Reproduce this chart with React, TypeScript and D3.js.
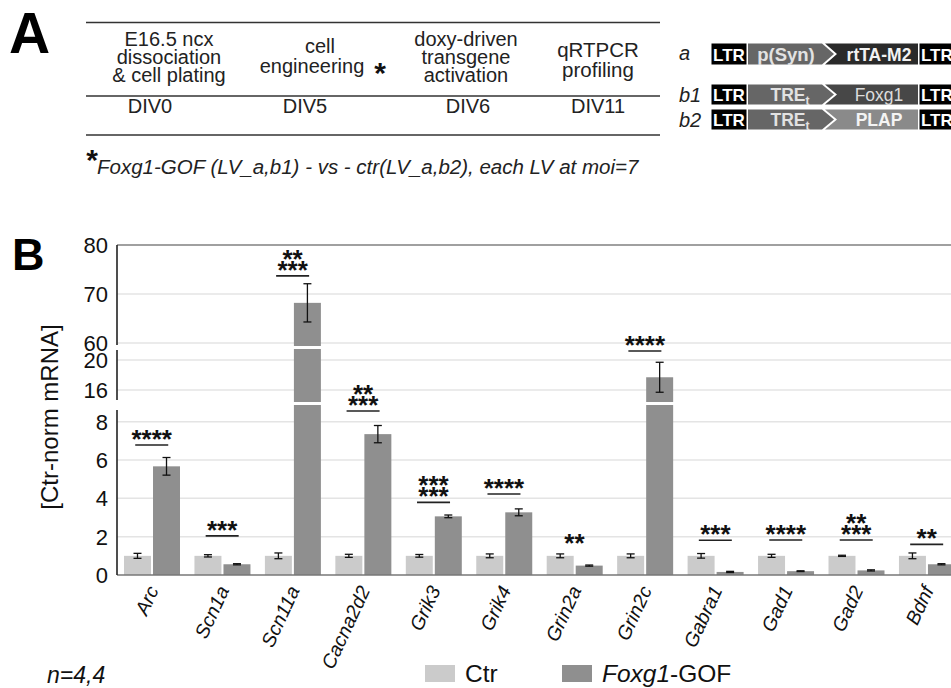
import React from "react";
import * as d3 from "d3";

// qRT-PCR, Ctr-normalized mRNA levels (mean, sem)
const genes = ["Arc", "Scn1a", "Scn11a", "Cacna2d2", "Grik3", "Grik4", "Grin2a", "Grin2c", "Gabra1", "Gad1", "Gad2", "Bdnf"];
const ctrMean = [1, 1, 1, 1, 1, 1, 1, 1, 1, 1, 1, 1];
const ctrErr = [0.13, 0.06, 0.15, 0.08, 0.07, 0.1, 0.1, 0.1, 0.12, 0.08, 0.03, 0.15];
const gofMean = [5.67, 0.56, 68.2, 7.35, 3.06, 3.27, 0.49, 17.7, 0.16, 0.2, 0.24, 0.56];
const gofErr = [0.46, 0.03, 3.9, 0.45, 0.07, 0.18, 0.03, 2.0, 0.03, 0.02, 0.03, 0.03];

// significance marks, bottom row first
const sigStars = [["****"], ["***"], ["***", "**"], ["***", "**"], ["***", "***"], ["****"], ["**"], ["****"], ["***"], ["****"], ["***", "**"], ["**"]];
const sigLevel = [6.78, 2.04, 73.7, 8.56, 3.79, 4.23, 1.36, 21.2, 1.81, 1.83, 1.83, 1.6];
const sigLine = [true, true, true, true, true, true, false, true, true, true, true, true];

// broken y axis: three segments
const topTicks = [60, 70, 80];
const midTicks = [16, 20];
const lowTicks = [0, 2, 4, 6, 8];
const topDomain = [59.4, 80];
const midDomain = [14.4, 21.47];
const lowDomain = [0, 8.87];

// panel A
const steps = [["E16.5 ncx", "dissociation", "& cell plating"], ["cell", "engineering"], ["doxy-driven", "transgene", "activation"], ["qRTPCR", "profiling"]];
const days = ["DIV0", "DIV5", "DIV6", "DIV11"];

const W = 951;
const H = 688;
const FONT = "'Liberation Sans', Arial, Helvetica, sans-serif";

const segments = [
  { scale: d3.scaleLinear().domain(topDomain).range([346, 245]), ticks: topTicks, grid: [60, 70], axis: [245, 345] },
  { scale: d3.scaleLinear().domain(midDomain).range([402, 349]), ticks: midTicks, grid: [16, 20], axis: [350, 400] },
  { scale: d3.scaleLinear().domain(lowDomain).range([575, 405]), ticks: lowTicks, grid: [2, 4, 6, 8], axis: [410, 575] },
];

function yOf(v: number) {
  const s = segments.find(s => v >= s.scale.domain()[0] && v <= s.scale.domain()[1]) || segments[2];
  return s.scale(v);
}

const plotLeft = 117;
const x = d3.scaleBand().domain(genes).range([plotLeft, plotLeft + 70.45 * genes.length]).padding(0);
const xSub = d3.scaleBand().domain(["ctr", "gof"]).range([7, 63]).paddingInner(0.07);

const CTR = "#cbcbcb";
const GOF = "#8f8f8f";

function Bars({ values, errs, key2, fill }: { values: number[]; errs: number[]; key2: string; fill: string }) {
  return (
    <g>
      {genes.map((g, i) => {
        const v = values[i];
        const bx = (x(g) as number) + (xSub(key2) as number);
        const bw = xSub.bandwidth();
        const cx = bx + bw / 2;
        const pieces = segments.filter(s => v > s.scale.domain()[0]).map((s, j) => {
          const top = s.scale(Math.min(v, s.scale.domain()[1]));
          const bot = s.scale(s.scale.domain()[0]);
          return <rect key={j} x={bx} y={top} width={bw} height={bot - top} fill={fill} />;
        });
        const e = errs[i];
        return (
          <g key={g}>
            {pieces}
            <g stroke="#111" strokeWidth={1.3}>
              <line x1={cx} x2={cx} y1={yOf(v + e)} y2={yOf(v - e)} />
              <line x1={cx - 4} x2={cx + 4} y1={yOf(v + e)} y2={yOf(v + e)} />
              <line x1={cx - 4} x2={cx + 4} y1={yOf(v - e)} y2={yOf(v - e)} />
            </g>
          </g>
        );
      })}
    </g>
  );
}

function Construct({ y, h, label, promoter, gene, geneFill, geneColor, geneWeight }: any) {
  const mid = y + h / 2;
  const tb = mid + 6.5;
  return (
    <g fontFamily={FONT}>
      <text x={679} y={label === "a" ? tb - 1 : tb + 1} fontSize={20} fontStyle="italic" fill="#222">{label}</text>
      <rect x={711.5} y={y} width={35} height={h} fill="#000" />
      <text x={729} y={tb} fontSize={17} fontWeight="bold" fill="#fff" textAnchor="middle">LTR</text>
      <path d={`M748,${y}H822L834,${mid}L822,${y + h}H748Z`} fill="#666" />
      {promoter === "TRE" ? (
        <text x={790} y={tb} fontSize={17.5} fontWeight="bold" fill="#e2e2e2" textAnchor="middle">
          TRE<tspan fontSize={12} dy={4}>t</tspan>
        </text>
      ) : (
        <text x={786} y={tb} fontSize={18.5} fontWeight="bold" fill="#e2e2e2" textAnchor="middle">{promoter}</text>
      )}
      <path d={`M825,${y}H918V${y + h}H825L837,${mid}Z`} fill={geneFill} />
      <text x={879} y={tb} fontSize={17.5} fontWeight={geneWeight} fill={geneColor} textAnchor="middle">{gene}</text>
      <rect x={919.5} y={y} width={40} height={h} fill="#000" />
      <text x={921} y={tb} fontSize={17} fontWeight="bold" fill="#fff">LTR</text>
    </g>
  );
}

export default function App() {
  const colX = [169, 320, 466, 598];
  const dayX = [150, 305, 468, 598];
  const lineYs = [[46, 64, 82], [53, 73], [46, 64, 82], [57, 77]];
  return (
    <svg width={W} height={H} style={{ position: "absolute", left: 0, top: 0, background: "#fff" }} fontFamily={FONT}>
      {/* ---------- panel A ---------- */}
      <text x={9} y={53} fontSize={57} fontWeight="bold" fill="#000">A</text>
      <g stroke="#333" strokeWidth={1.5}>
        <line x1={86} x2={660} y1={22.5} y2={22.5} />
        <line x1={86} x2={660} y1={96} y2={96} />
        <line x1={86} x2={660} y1={135} y2={135} />
      </g>
      {steps.map((lines, i) =>
        lines.map((t, j) => (
          <text key={i + "-" + j} x={i === 1 && j === 1 ? 312 : colX[i]} y={lineYs[i][j]} fontSize={i === 3 ? 20.5 : 20} fill="#222" textAnchor="middle">{t}</text>
        ))
      )}
      <text x={380} y={83} fontSize={30} fontWeight="bold" fill="#111" textAnchor="middle">*</text>
      {days.map((d, i) => (
        <text key={d} x={dayX[i]} y={113} fontSize={20} fill="#222" textAnchor="middle">{d}</text>
      ))}
      <text x={92} y={170} fontSize={30} fontWeight="bold" fill="#111" textAnchor="middle">*</text>
      <text x={97} y={174} fontSize={20.5} fontStyle="italic" fill="#222">Foxg1-GOF (LV_a,b1) - vs - ctr(LV_a,b2), each LV at moi=7</text>

      <Construct y={43.5} h={21} label="a" promoter="p(Syn)" gene="rtTA-M2" geneFill="#2a2a2a" geneColor="#f2f2f2" geneWeight="bold" />
      <Construct y={84.5} h={20} label="b1" promoter="TRE" gene="Foxg1" geneFill="#474747" geneColor="#dcdcdc" geneWeight="normal" />
      <Construct y={109.5} h={20} label="b2" promoter="TRE" gene="PLAP" geneFill="#8a8a8a" geneColor="#f4f4f4" geneWeight="bold" />

      {/* ---------- panel B ---------- */}
      <text x={12} y={270} fontSize={45} fontWeight="bold" fill="#000">B</text>

      {/* gridlines */}
      {segments.map((s, i) => (
        <g key={i}>
          {s.grid.map(t => (
            <line key={t} x1={plotLeft} x2={W} y1={s.scale(t)} y2={s.scale(t)} stroke="#e4e4e4" strokeWidth={1.5} />
          ))}
        </g>
      ))}
      <line x1={plotLeft} x2={W} y1={yOf(80)} y2={yOf(80)} stroke="#808080" strokeWidth={1.5} />

      <Bars values={ctrMean} errs={ctrErr} key2="ctr" fill={CTR} />
      <Bars values={gofMean} errs={gofErr} key2="gof" fill={GOF} />

      {/* baseline + broken y axis */}
      <line x1={plotLeft} x2={W} y1={yOf(0)} y2={yOf(0)} stroke="#777" strokeWidth={1.5} />
      {segments.map((s, i) => (
        <g key={i}>
          <line x1={plotLeft} x2={plotLeft} y1={s.axis[0]} y2={s.axis[1]} stroke="#222" strokeWidth={1.6} />
          {s.ticks.map(t => (
            <text key={t} x={108} y={s.scale(t)} dy="0.36em" fontSize={22} fill="#111" textAnchor="end">{t}</text>
          ))}
        </g>
      ))}
      <text transform={`translate(58,${417}) rotate(-90)`} fontSize={24} fill="#111" textAnchor="middle">[Ctr-norm mRNA]</text>

      {/* significance */}
      {genes.map((g, i) => {
        const cx = (x(g) as number) + x.bandwidth() / 2 - 0.5;
        const ly = yOf(sigLevel[i]);
        return (
          <g key={g}>
            {sigLine[i] && <line x1={cx - 16.5} x2={cx + 16.5} y1={ly} y2={ly} stroke="#222" strokeWidth={1.6} />}
            {sigStars[i].map((st, j) => (
              <text key={j} x={cx} y={ly - 12 - 11 * j + 15} fontSize={26} fontWeight="bold" fill="#111" textAnchor="middle">{st}</text>
            ))}
          </g>
        );
      })}

      {/* x labels */}
      {genes.map(g => (
        <text key={g} transform={`translate(${(x(g) as number) + x.bandwidth() / 2 + 7},590) rotate(-65)`} fontSize={19.5} fontStyle="italic" fill="#111" textAnchor="end">{g}</text>
      ))}

      {/* legend */}
      <rect x={425} y={665} width={30} height={17} fill={CTR} />
      <text x={465} y={682} fontSize={24.5} fill="#111">Ctr</text>
      <rect x={562} y={665} width={30} height={17} fill={GOF} />
      <text x={602} y={682} fontSize={24.5} fill="#111"><tspan fontStyle="italic">Foxg1</tspan>-GOF</text>
      <text x={47} y={683} fontSize={23} fontStyle="italic" fill="#111">n=4,4</text>
    </svg>
  );
}
